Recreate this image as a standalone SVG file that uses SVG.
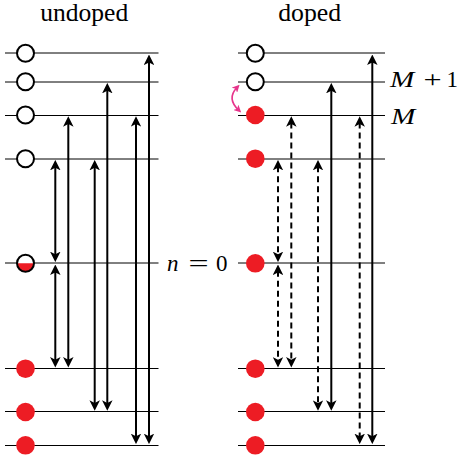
<svg xmlns="http://www.w3.org/2000/svg" width="458" height="456" viewBox="0 0 458 456">
<style>
.lvl{stroke:#000;stroke-width:1;fill:none}
.arr{stroke:#000;stroke-width:2;fill:none;marker-start:url(#ah);marker-end:url(#ah)}
.dash{stroke-dasharray:6 4}
.open{fill:#fff;stroke:#000;stroke-width:2}
.red{fill:#ed1c24;stroke:none}
.lbl{font-family:'Liberation Serif','DejaVu Serif',serif;fill:#000}
.pink{stroke:#e7358c;stroke-width:1.6;fill:none;marker-start:url(#ph);marker-end:url(#ph)}
</style>
<defs>
<marker id="ah" viewBox="0 0 10 10" refX="4" refY="5" markerWidth="10.5" markerHeight="10.5" markerUnits="userSpaceOnUse" orient="auto-start-reverse">
<path d="M10,5 L0,0 L2.5,5 L0,10 Z" fill="#000"/>
</marker>
<marker id="ph" viewBox="0 0 10 10" refX="5" refY="5" markerWidth="7.5" markerHeight="7.5" markerUnits="userSpaceOnUse" orient="auto-start-reverse">
<path d="M10,5 L0,0 L2.5,5 L0,10 Z" fill="#e7358c"/>
</marker>
</defs>

<g id="levels">
<line class="lvl" x1="5" y1="53" x2="158.5" y2="53"/>
<line class="lvl" x1="5" y1="82" x2="158.5" y2="82"/>
<line class="lvl" x1="5" y1="115.5" x2="158.5" y2="115.5"/>
<line class="lvl" x1="5" y1="159" x2="158.5" y2="159"/>
<line class="lvl" x1="5" y1="263" x2="158.5" y2="263"/>
<line class="lvl" x1="5" y1="368.5" x2="158.5" y2="368.5"/>
<line class="lvl" x1="5" y1="411.5" x2="158.5" y2="411.5"/>
<line class="lvl" x1="5" y1="445.5" x2="158.5" y2="445.5"/>
<line class="lvl" x1="238" y1="53" x2="385" y2="53"/>
<line class="lvl" x1="238" y1="82" x2="385" y2="82"/>
<line class="lvl" x1="238" y1="115.5" x2="385" y2="115.5"/>
<line class="lvl" x1="238" y1="159" x2="385" y2="159"/>
<line class="lvl" x1="238" y1="263" x2="385" y2="263"/>
<line class="lvl" x1="238" y1="368.5" x2="385" y2="368.5"/>
<line class="lvl" x1="238" y1="411.5" x2="385" y2="411.5"/>
<line class="lvl" x1="238" y1="445.5" x2="385" y2="445.5"/>
</g>

<g id="connectors">
<line class="arr" x1="55.3" y1="166.2" x2="55.3" y2="255.8"/>
<line class="arr" x1="55.3" y1="270.8" x2="55.3" y2="361.2"/>
<line class="arr" x1="68.3" y1="122.5" x2="68.3" y2="361.2"/>
<line class="arr" x1="94.7" y1="166.2" x2="94.7" y2="404.5"/>
<line class="arr" x1="107.3" y1="89.2" x2="107.3" y2="404.5"/>
<line class="arr" x1="136" y1="122.5" x2="136" y2="437.8"/>
<line class="arr" x1="149" y1="60.8" x2="149" y2="437.8"/>

<line class="arr dash" x1="278" y1="166.2" x2="278" y2="255.8"/>
<line class="arr dash" x1="278" y1="270.8" x2="278" y2="361.2"/>
<line class="arr dash" x1="291.3" y1="122.5" x2="291.3" y2="361.2"/>
<line class="arr dash" x1="318" y1="166.2" x2="318" y2="404.5"/>
<line class="arr" x1="331.3" y1="89.2" x2="331.3" y2="404.5"/>
<line class="arr dash" x1="359.7" y1="122.5" x2="359.7" y2="437.8"/>
<line class="arr" x1="372.3" y1="60.8" x2="372.3" y2="437.8"/>

<path class="pink" d="M237,87.5 Q226.5,98.5 238.5,110"/>
</g>

<g id="undoped-states">
<circle class="open" cx="25.5" cy="53.3" r="8.5"/>
<circle class="open" cx="25.5" cy="81.7" r="8.5"/>
<circle class="open" cx="25.5" cy="115" r="8.5"/>
<circle class="open" cx="25.5" cy="158.7" r="8.5"/>
<g id="half-state">
<circle cx="25.5" cy="263.3" r="8.5" fill="#fff"/>
<path class="red" d="M17,263.3 A8.5,8.5 0 0 0 34,263.3 Z"/>
<circle cx="25.5" cy="263.3" r="8.5" fill="none" stroke="#000" stroke-width="2"/>
</g>
<circle class="red" cx="25.5" cy="368.7" r="9.3"/>
<circle class="red" cx="25.5" cy="412" r="9.3"/>
<circle class="red" cx="25.5" cy="445.3" r="9.3"/>
</g>

<g id="doped-states">
<circle class="open" cx="255.3" cy="53.3" r="8.5"/>
<circle class="open" cx="255.3" cy="81.7" r="8.5"/>
<circle class="red" cx="255.3" cy="115" r="9.3"/>
<circle class="red" cx="255.3" cy="158.7" r="9.3"/>
<circle class="red" cx="255.3" cy="263.3" r="9.3"/>
<circle class="red" cx="255.3" cy="368.7" r="9.3"/>
<circle class="red" cx="255.3" cy="412" r="9.3"/>
<circle class="red" cx="255.3" cy="445.3" r="9.3"/>
</g>

<g id="labels" font-family="Liberation Serif, DejaVu Serif, serif">
<text class="lbl" x="84.2" y="21" font-size="24.5" text-anchor="middle" textLength="88" lengthAdjust="spacingAndGlyphs">undoped</text>
<text class="lbl" x="309.7" y="21" font-size="24.5" text-anchor="middle" textLength="63" lengthAdjust="spacingAndGlyphs">doped</text>
<text class="lbl" x="167" y="271" font-size="23" font-style="italic">n</text>
<text class="lbl" transform="translate(188.5,271) scale(1.55,1)" x="0" y="0" font-size="23">=</text>
<text class="lbl" x="216" y="271" font-size="23">0</text>
<text class="lbl" transform="translate(390,87) scale(1.27,1)" x="0" y="0" font-size="23" font-style="italic">M</text>
<text class="lbl" transform="translate(423.5,87) scale(1.4,1)" x="0" y="0" font-size="23">+</text>
<text class="lbl" x="446.5" y="87" font-size="23">1</text>
<text class="lbl" transform="translate(391,123.5) scale(1.27,1)" x="0" y="0" font-size="23" font-style="italic">M</text>
</g>
</svg>
